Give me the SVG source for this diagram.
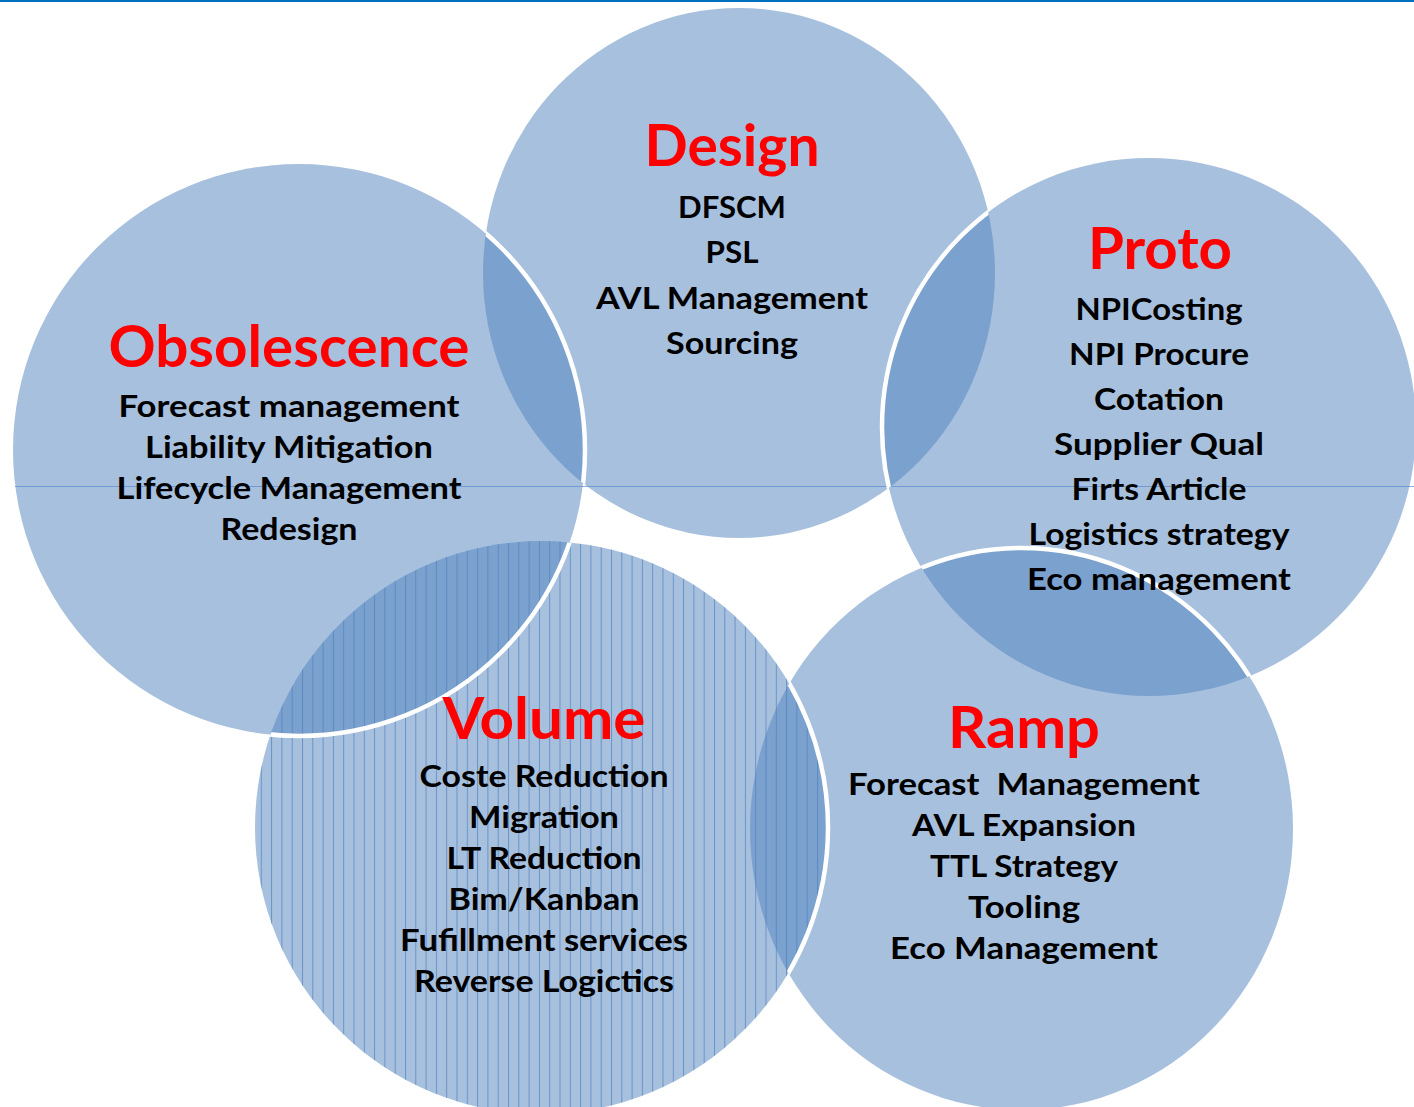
<svg xmlns="http://www.w3.org/2000/svg" width="1414" height="1107" viewBox="0 0 1414 1107">
<defs>
<style>
.fill{fill:#4F81BD;fill-opacity:0.5}
.ring{fill:none;stroke:#ffffff;stroke-width:4.5}
.t{font-family:Lato,"Liberation Sans",sans-serif;font-weight:700;text-anchor:middle}
.title{font-size:58px;fill:#ff0000}
.item{font-size:31px;fill:#000000}
</style>
<ellipse id="e-design" cx="739" cy="273" rx="256" ry="265"/>
<ellipse id="e-proto" cx="1149" cy="427" rx="267" ry="269"/>
<ellipse id="e-ramp" cx="1021.5" cy="829" rx="271.5" ry="281"/>
<circle id="e-volume" cx="541.5" cy="827.5" r="286.5"/>
<circle id="e-obs" cx="299" cy="450" r="286"/>
<pattern id="stripes" patternUnits="userSpaceOnUse" x="405" y="0" width="10.3" height="20">
<line x1="0.5" y1="0" x2="0.5" y2="20" stroke="#4F81BD" stroke-width="1" stroke-opacity="0.7"/>
</pattern>
<clipPath id="clip-design"><use href="#e-design"/></clipPath>
<clipPath id="clip-proto"><use href="#e-proto"/></clipPath>
<clipPath id="clip-ramp"><use href="#e-ramp"/></clipPath>
<clipPath id="clip-design-volume"><use href="#e-design"/><use href="#e-volume"/></clipPath>
</defs>
<rect x="0" y="0" width="1414" height="1107" fill="#ffffff"/>
<rect x="0" y="0" width="1414" height="2" fill="#0070C0"/>
<g id="shapes">
<use href="#e-design" class="fill"/>
<use href="#e-proto" class="fill"/>
<use href="#e-ramp" class="fill"/>
<use href="#e-volume" class="fill"/>
<use href="#e-volume" fill="url(#stripes)"/>
<use href="#e-obs" class="fill"/>
</g>
<line x1="15" y1="486.5" x2="1414" y2="486.5" stroke="#5b8bd0" stroke-width="1" stroke-opacity="0.7"/>
<g id="outlines">
<use href="#e-proto" class="ring" clip-path="url(#clip-design)"/>
<use href="#e-ramp" class="ring" clip-path="url(#clip-proto)"/>
<use href="#e-volume" class="ring" clip-path="url(#clip-ramp)"/>
<use href="#e-obs" class="ring" clip-path="url(#clip-design-volume)"/>
</g>
<g id="node-design" class="t">
<text class="title" x="732" y="166" textLength="175" lengthAdjust="spacingAndGlyphs">Design</text>
<text class="item" x="732" y="218" textLength="108" lengthAdjust="spacingAndGlyphs">DFSCM</text>
<text class="item" x="732" y="263" textLength="53" lengthAdjust="spacingAndGlyphs">PSL</text>
<text class="item" x="732" y="309" textLength="272" lengthAdjust="spacingAndGlyphs">AVL Management</text>
<text class="item" x="732" y="354" textLength="132" lengthAdjust="spacingAndGlyphs">Sourcing</text>
</g>
<g id="node-proto" class="t">
<text class="title" x="1160" y="269" textLength="144" lengthAdjust="spacingAndGlyphs">Proto</text>
<text class="item" x="1159" y="320" textLength="167" lengthAdjust="spacingAndGlyphs">NPICosting</text>
<text class="item" x="1159" y="365" textLength="180" lengthAdjust="spacingAndGlyphs">NPI Procure</text>
<text class="item" x="1159" y="410" textLength="130" lengthAdjust="spacingAndGlyphs">Cotation</text>
<text class="item" x="1159" y="455" textLength="210" lengthAdjust="spacingAndGlyphs">Supplier Qual</text>
<text class="item" x="1159" y="500" textLength="175" lengthAdjust="spacingAndGlyphs">Firts Article</text>
<text class="item" x="1159" y="545" textLength="261" lengthAdjust="spacingAndGlyphs">Logistics strategy</text>
<text class="item" x="1159" y="590" textLength="264" lengthAdjust="spacingAndGlyphs">Eco management</text>
</g>
<g id="node-ramp" class="t">
<text class="title" x="1024" y="748" textLength="152" lengthAdjust="spacingAndGlyphs">Ramp</text>
<text class="item" x="1024" y="795" textLength="352" lengthAdjust="spacingAndGlyphs" style="white-space:pre" xml:space="preserve">Forecast  Management</text>
<text class="item" x="1024" y="836" textLength="224" lengthAdjust="spacingAndGlyphs">AVL Expansion</text>
<text class="item" x="1024" y="877" textLength="188" lengthAdjust="spacingAndGlyphs">TTL Strategy</text>
<text class="item" x="1024" y="918" textLength="112" lengthAdjust="spacingAndGlyphs">Tooling</text>
<text class="item" x="1024" y="959" textLength="268" lengthAdjust="spacingAndGlyphs">Eco Management</text>
</g>
<g id="node-volume" class="t">
<text class="title" x="544" y="739" textLength="203" lengthAdjust="spacingAndGlyphs">Volume</text>
<text class="item" x="544" y="787" textLength="249" lengthAdjust="spacingAndGlyphs">Coste Reduction</text>
<text class="item" x="544" y="828" textLength="150" lengthAdjust="spacingAndGlyphs">Migration</text>
<text class="item" x="544" y="869" textLength="195" lengthAdjust="spacingAndGlyphs">LT Reduction</text>
<text class="item" x="544" y="910" textLength="191" lengthAdjust="spacingAndGlyphs">Bim/Kanban</text>
<text class="item" x="544" y="951" textLength="288" lengthAdjust="spacingAndGlyphs">Fufillment services</text>
<text class="item" x="544" y="992" textLength="260" lengthAdjust="spacingAndGlyphs">Reverse Logictics</text>
</g>
<g id="node-obsolescence" class="t">
<text class="title" x="289" y="367" textLength="361" lengthAdjust="spacingAndGlyphs">Obsolescence</text>
<text class="item" x="289" y="417" textLength="341" lengthAdjust="spacingAndGlyphs">Forecast management</text>
<text class="item" x="289" y="458" textLength="288" lengthAdjust="spacingAndGlyphs">Liability Mitigation</text>
<text class="item" x="289" y="499" textLength="345" lengthAdjust="spacingAndGlyphs">Lifecycle Management</text>
<text class="item" x="289" y="540" textLength="137" lengthAdjust="spacingAndGlyphs">Redesign</text>
</g>
</svg>
